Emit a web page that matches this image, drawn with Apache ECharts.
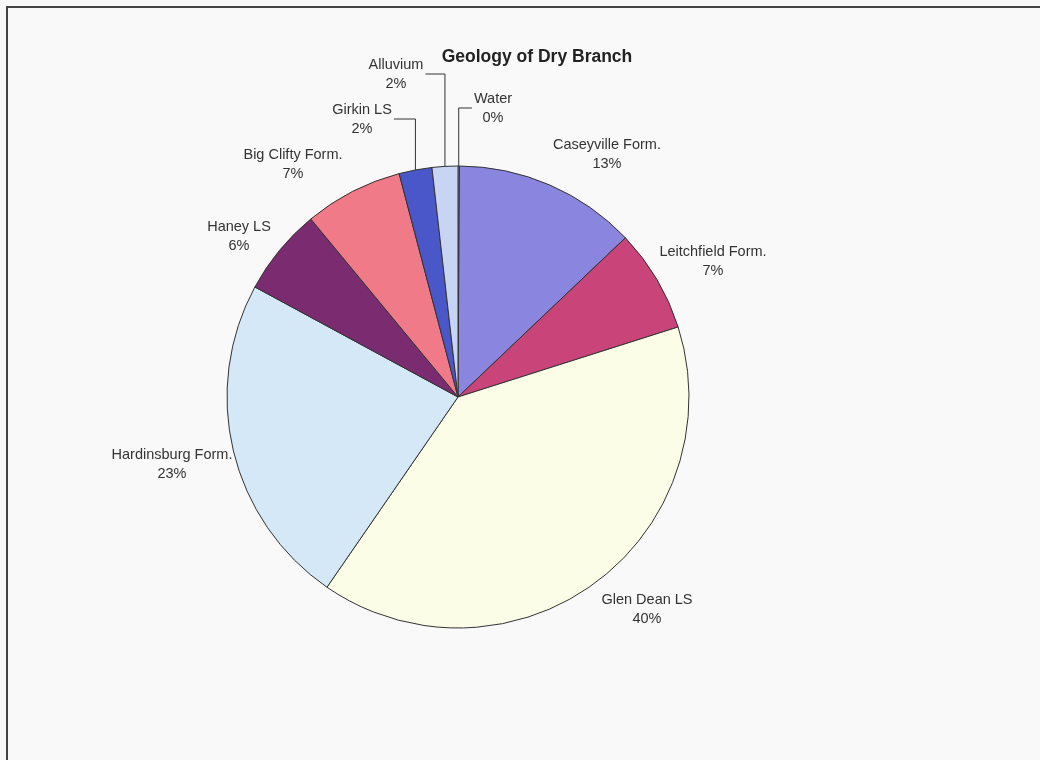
<!DOCTYPE html>
<html>
<head>
<meta charset="utf-8">
<script src="https://cdn.jsdelivr.net/npm/echarts@6/dist/echarts.min.js"></script>
<style>
  html, body { margin: 0; padding: 0; background: #f9f9f9; }
  #chart { width: 1040px; height: 760px; }
</style>
</head>
<body>
<div id="chart"></div>
<script>
// slices, clockwise from 12 o'clock
var names = ['Water', 'Caseyville Form.', 'Leitchfield Form.', 'Glen Dean LS', 'Hardinsburg Form.',
             'Haney LS', 'Big Clifty Form.', 'Girkin LS', 'Alluvium'];
var values = [0.1, 12.8, 7.2, 39.5, 23.3, 6.1, 6.9, 2.3, 1.8];
var colors = ['#c9d2f2', '#8a86e0', '#c84479', '#fbfde6', '#d5e8f8',
              '#7b2b6f', '#f17a89', '#4a57c9', '#c8d4f4'];

// label centres (text is placed there, not the slices)
var labelPos = {
  'Water': [493, 108],
  'Caseyville Form.': [607, 154],
  'Leitchfield Form.': [713, 261],
  'Glen Dean LS': [647, 609],
  'Hardinsburg Form.': [172, 464],
  'Haney LS': [239, 236],
  'Big Clifty Form.': [293, 164],
  'Girkin LS': [362, 119],
  'Alluvium': [396, 74]
};
// leader lines: which side of the label the line attaches
var leader = { 'Water': 'left', 'Girkin LS': 'right', 'Alluvium': 'right' };

var chart = echarts.init(document.getElementById('chart'));

var data = names.map(function (n, i) {
  return {
    name: n,
    value: values[i],
    itemStyle: { color: colors[i] },
    labelLine: { show: !!leader[n] }
  };
});

var option = {
  backgroundColor: '#f9f9f9',
  animation: false,
  title: {
    text: 'Geology of Dry Branch',
    left: 532,
    top: 43,
    textAlign: 'center',
    textStyle: { fontFamily: 'Liberation Sans', fontSize: 17.5, fontWeight: 'bold', color: '#222' }
  },
  graphic: [{
    type: 'rect',
    shape: { x: 7, y: 7, width: 1060, height: 780 },
    style: { fill: 'none', stroke: '#444', lineWidth: 2 },
    silent: true
  }],
  series: [{
    type: 'pie',
    center: [458, 397],
    radius: 231,
    startAngle: 90,
    clockwise: true,
    minAngle: 0,
    avoidLabelOverlap: false,
    itemStyle: { borderColor: '#333', borderWidth: 1 },
    label: {
      show: true,
      position: 'outside',
      fontFamily: 'Liberation Sans',
      fontSize: 14.5,
      lineHeight: 19,
      color: '#333',
      align: 'center',
      formatter: function (p) {
        return p.name + '\n' + Math.round(p.percent) + '%';
      }
    },
    labelLine: { show: false, lineStyle: { color: '#333', width: 1 } },
    labelLayout: function (p) {
      var name = names[p.dataIndex];
      var pos = labelPos[name];
      if (!pos) return {};
      var out = { x: pos[0], y: pos[1], align: 'center', verticalAlign: 'middle' };
      if (leader[name] && p.labelLinePoints) {
        var s = p.labelLinePoints[0];
        var half = p.labelRect.width / 2 + 2;
        var side = leader[name] === 'right' ? pos[0] + half : pos[0] - half;
        out.labelLinePoints = [s, [s[0], pos[1]], [side, pos[1]]];
      }
      return out;
    },
    emphasis: { disabled: true },
    data: data
  }]
};

chart.setOption(option);
</script>
</body>
</html>
